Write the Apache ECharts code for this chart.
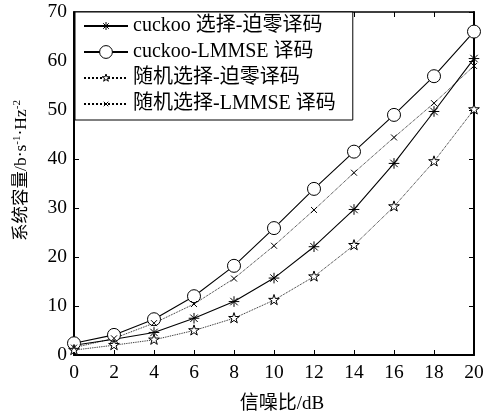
<!DOCTYPE html>
<html>
<head>
<meta charset="utf-8">
<script src="https://cdn.jsdelivr.net/npm/echarts@6/dist/echarts.min.js"></script>
<style>
html,body{margin:0;padding:0;background:#fff;}
#chart{width:492px;height:416px;}
</style>
</head>
<body>
<div id="chart"></div>
<script>
// SNR (dB) on the x axis
var snr = [0, 2, 4, 6, 8, 10, 12, 14, 16, 18, 20];
var xTicks = [0, 2, 4, 6, 8, 10, 12, 14, 16, 18, 20];
var yTicks = [0, 10, 20, 30, 40, 50, 60, 70];

var seriesNames = ['cuckoo 选择-迫零译码', 'cuckoo-LMMSE 译码', '随机选择-迫零译码', '随机选择-LMMSE 译码'];

// system capacity for each scheme
var cuckooZF     = [2.0, 3.2, 4.6, 7.5, 10.9, 15.7, 22.1, 29.7, 39.1, 49.7, 60.5];
var cuckooLMMSE  = [2.4, 4.1, 7.3, 12.0, 18.2, 25.9, 33.9, 41.5, 49.0, 56.9, 66.0];
var randomZF     = [1.0, 2.0, 3.1, 5.0, 7.5, 11.2, 16.0, 22.4, 30.3, 39.5, 50.1];
var randomLMMSE  = [1.5, 3.4, 6.5, 10.4, 15.6, 22.3, 29.6, 37.2, 44.4, 51.4, 59.0];

var serif = '"Liberation Serif", "Times New Roman", "Noto Sans CJK SC", serif';

// marker paths; the leading moveTo points pad the bounding box so the
// legend copy of each marker comes out smaller than the circle
var asterisk = 'path://M-16,-16M16,16M0,-10L0,10M-10,0L10,0M-7,-7L7,7M-7,7L7,-7';
var cross = 'path://M-20,-20M20,20M-7,-7L7,7M-7,7L7,-7';
var star = 'path://M-16,-16M16,16M0,-10L2.245,-3.09L9.51,-3.09L3.63,1.18L5.88,8.09L0,3.82L-5.88,8.09L-3.63,1.18L-9.51,-3.09L-2.245,-3.09Z';

var markerStyle = { color: '#fff', borderColor: '#000', borderWidth: 1 };

function pairs(vals) {
  return snr.map(function (x, i) { return [x, vals[i]]; });
}

function mk(name, vals, symbol, size, dotted) {
  return {
    name: name,
    type: 'line',
    data: pairs(vals),
    symbol: symbol,
    symbolSize: size,
    showAllSymbol: true,
    lineStyle: { color: '#000', width: dotted ? 0.9 : 1.1, type: dotted ? 'dotted' : 'solid' },
    itemStyle: markerStyle,
    emphasis: { disabled: true },
    z: 3
  };
}

var chart = echarts.init(document.getElementById('chart'), null, { renderer: 'canvas' });

var axisBase = {
  type: 'value',
  axisTick: { show: true, inside: true, length: 5, lineStyle: { color: '#000', width: 1 } },
  splitLine: { show: false }
};

chart.setOption({
  animation: false,
  backgroundColor: '#fff',
  grid: { left: 74, right: 18, top: 12, bottom: 61, containLabel: false, outerBoundsMode: 'none' },
  legend: {
    data: seriesNames.map(function (n) { return { name: n, itemStyle: markerStyle }; }),
    orient: 'vertical',
    left: 75,
    top: 12,
    padding: [4, 17, 6, 8],
    itemGap: 6,
    itemWidth: 44,
    itemHeight: 16,
    backgroundColor: '#fff',
    borderColor: '#000',
    borderWidth: 1,
    textStyle: { fontFamily: serif, fontSize: 20, lineHeight: 20, color: '#000', padding: [0, 0, 0, 0] }
  },
  xAxis: [
    Object.assign({}, axisBase, {
      min: xTicks[0], max: xTicks[xTicks.length - 1], interval: 2,
      position: 'bottom',
      axisLine: { show: true, onZero: false, lineStyle: { color: '#000', width: 2 } },
      axisLabel: { color: '#000', fontFamily: serif, fontSize: 19.5, margin: 8 },
      name: '信噪比/dB',
      nameLocation: 'middle',
      nameGap: 40,
      nameTextStyle: { color: '#000', fontFamily: serif, fontSize: 19, padding: [0, 0, 0, 16] }
    }),
    Object.assign({}, axisBase, {
      min: xTicks[0], max: xTicks[xTicks.length - 1], interval: 2,
      position: 'top',
      axisLine: { show: true, onZero: false, lineStyle: { color: '#000', width: 1.5 } },
      axisLabel: { show: false }
    })
  ],
  yAxis: [
    Object.assign({}, axisBase, {
      min: yTicks[0], max: yTicks[yTicks.length - 1], interval: 10,
      position: 'left',
      axisLine: { show: true, onZero: false, lineStyle: { color: '#000', width: 2 } },
      axisLabel: { color: '#000', fontFamily: serif, fontSize: 19.5, margin: 7 },
      name: '系统容量/b·s{sup|-1}·Hz{sup|-2}',
      nameLocation: 'middle',
      nameGap: 43,
      nameRotate: 90,
      nameTextStyle: {
        color: '#000', fontFamily: serif, fontSize: 17.5,
        padding: [0, 0, 0, 26],
        rich: {
          sup: { fontFamily: serif, fontSize: 11, color: '#000', verticalAlign: 'top', padding: [0, 0, 8, 0] }
        }
      }
    }),
    Object.assign({}, axisBase, {
      min: yTicks[0], max: yTicks[yTicks.length - 1], interval: 10,
      position: 'right',
      axisLine: { show: true, onZero: false, lineStyle: { color: '#000', width: 2 } },
      axisLabel: { show: false }
    })
  ],
  series: [
    mk(seriesNames[0], cuckooZF, asterisk, 17, false),
    mk(seriesNames[1], cuckooLMMSE, 'circle', 13, false),
    mk(seriesNames[2], randomZF, star, 18, true),
    mk(seriesNames[3], randomLMMSE, cross, 17, true)
  ]
});
</script>
</body>
</html>
